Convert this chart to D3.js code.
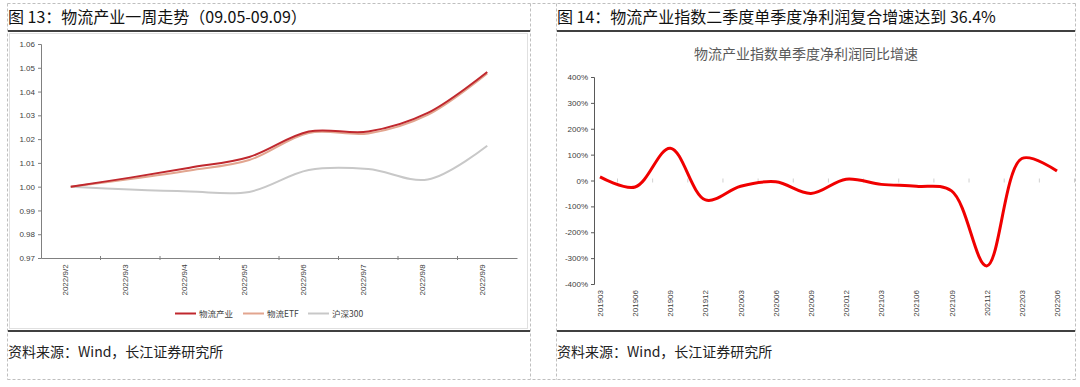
<!DOCTYPE html>
<html><head><meta charset="utf-8">
<script src="https://cdn.jsdelivr.net/npm/d3@7"></script>
<style>
html,body{margin:0;padding:0;background:#fff;}
svg{display:block;}
text{font-family:"Liberation Sans","Noto Sans CJK SC",Arial,sans-serif;}
.cjk{font-family:"Noto Sans CJK SC","Liberation Sans",sans-serif;}
</style></head><body>
<script>
// ---- Chart 1 data ----
const dates1 = ["2022/9/2","2022/9/3","2022/9/4","2022/9/5","2022/9/6","2022/9/7","2022/9/8","2022/9/9"];
const wuliu  = [1.000,1.0038,1.0080,1.0125,1.0232,1.0232,1.0310,1.0482];
const etf    = [1.000,1.0032,1.0068,1.0112,1.0226,1.0224,1.0302,1.0476];
const hs300  = [1.000,0.9988,0.9980,0.9978,1.0070,1.0074,1.0030,1.0172];
const yTicks1 = [0.97,0.98,0.99,1.00,1.01,1.02,1.03,1.04,1.05,1.06];
const seriesNames1 = ["物流产业","物流ETF","沪深300"];

// ---- Chart 2 data ----
const quarters = ["201903","201906","201909","201912","202003","202006","202009","202012","202103","202106","202109","202112","202203","202206"];
const growth   = [14,-25,125,-75,-22,-5,-50,5,-15,-22,-40,-330,85,36.4];
const yTicks2 = [-400,-300,-200,-100,0,100,200,300,400];

const svg = d3.select("body").append("svg").attr("width",1080).attr("height",387);

// panel borders (dashed)
const dash = svg.append("g").attr("fill","none").attr("stroke","#BFBFBF").attr("stroke-dasharray","3,2").attr("stroke-width",1);
dash.append("path").attr("d","M7.5,3.5H1075.5");
dash.append("path").attr("d","M7.5,3.5V379.5");
dash.append("path").attr("d","M530.5,3.5V379.5");
dash.append("path").attr("d","M556.5,3.5V379.5");
dash.append("path").attr("d","M1075.5,3.5V379.5");
dash.append("path").attr("d","M7.5,379.5H1075.5");

// titles
svg.append("text").attr("class","cjk").attr("x",8).attr("y",23).attr("font-size",16).attr("fill","#111")
  .text("图 13：物流产业一周走势（09.05-09.09）");
svg.append("text").attr("class","cjk").attr("x",557).attr("y",23).attr("font-size",16).attr("fill","#111")
  .text("图 14：物流产业指数二季度单季度净利润复合增速达到 36.4%");
// black rules
svg.append("line").attr("x1",8).attr("x2",530).attr("y1",31).attr("y2",31).attr("stroke","#000").attr("stroke-width",1.5);
svg.append("line").attr("x1",557).attr("x2",1075).attr("y1",31).attr("y2",31).attr("stroke","#000").attr("stroke-width",1.5);
svg.append("line").attr("x1",8).attr("x2",530).attr("y1",331).attr("y2",331).attr("stroke","#000").attr("stroke-width",1.5);
svg.append("line").attr("x1",557).attr("x2",1075).attr("y1",331).attr("y2",331).attr("stroke","#000").attr("stroke-width",1.5);
// sources
svg.append("text").attr("class","cjk").attr("x",8).attr("y",357).attr("font-size",14).attr("fill","#222").text("资料来源：Wind，长江证券研究所");
svg.append("text").attr("class","cjk").attr("x",557).attr("y",357).attr("font-size",14).attr("fill","#222").text("资料来源：Wind，长江证券研究所");

// chart 1 area border
svg.append("rect").attr("x",9.5).attr("y",33.5).attr("width",518).attr("height",295).attr("fill","none").attr("stroke","#E0E0E0");

// ---- Chart 1 ----
const x1 = d3.scaleBand().domain(dates1).range([41,517]);
const y1 = d3.scaleLinear().domain([0.97,1.06]).range([258,44]);
const g1 = svg.append("g");
const yAx1 = g1.append("g").attr("transform","translate(41,0)")
  .call(d3.axisLeft(y1).tickValues(yTicks1).tickFormat(d3.format(".2f")).tickSize(3));
yAx1.selectAll("path,line").attr("stroke","#808080");
yAx1.selectAll("text").attr("font-size",8).attr("fill","#404040");
const xAx1 = g1.append("g").attr("transform","translate(0,258)")
  .call(d3.axisBottom(x1).tickSize(0).tickPadding(4));
xAx1.select("path").attr("stroke","#808080");
xAx1.selectAll("text").attr("font-size",8).attr("fill","#404040")
  .attr("transform","rotate(-90)").attr("text-anchor","end").attr("dx","-0.3em").attr("dy","-0.3em").attr("x",-4).attr("y",0);
// between-category ticks
g1.append("g").selectAll("line").data(dates1.slice(1)).join("line")
  .attr("x1",d=>x1(d)).attr("x2",d=>x1(d)).attr("y1",256).attr("y2",260).attr("stroke","#808080");

const line1 = d3.line().x((d,i)=>x1(dates1[i])+x1.bandwidth()/2).y(d=>y1(d)).curve(d3.curveCatmullRom.alpha(0.5));
const s1 = [
  {name:seriesNames1[2], vals:hs300, color:"#C8C8C8", w:2},
  {name:seriesNames1[1], vals:etf, color:"#E2A58F", w:2},
  {name:seriesNames1[0], vals:wuliu, color:"#C0282E", w:2},
];
g1.selectAll("path.s").data(s1).join("path").attr("class","s")
  .attr("d",d=>line1(d.vals)).attr("fill","none").attr("stroke",d=>d.color).attr("stroke-width",d=>d.w);

// legend
const legItems = [
  {name:seriesNames1[0], color:"#C0282E", x:175},
  {name:seriesNames1[1], color:"#E2A58F", x:243},
  {name:seriesNames1[2], color:"#C8C8C8", x:308},
];
const lg = svg.append("g");
legItems.forEach(it=>{
  lg.append("line").attr("x1",it.x).attr("x2",it.x+21).attr("y1",313.5).attr("y2",313.5).attr("stroke",it.color).attr("stroke-width",2);
  lg.append("text").attr("class","cjk").attr("x",it.x+24).attr("y",317).attr("font-size",8.5).attr("fill","#404040").text(it.name);
});

// ---- Chart 2 ----
svg.append("text").attr("class","cjk").attr("x",806).attr("y",59).attr("text-anchor","middle").attr("font-size",14).attr("fill","#595959")
  .text("物流产业指数单季度净利润同比增速");
const x2 = d3.scalePoint().domain(quarters).range([600,1057]);
const y2 = d3.scaleLinear().domain([-400,400]).range([284,77]);
const g2 = svg.append("g");
const yAx2 = g2.append("g").attr("transform","translate(594,0)")
  .call(d3.axisLeft(y2).tickValues(yTicks2).tickFormat(d=>d+"%").tickSize(3));
yAx2.selectAll("path,line").attr("stroke","#595959");
yAx2.selectAll("text").attr("font-size",8).attr("fill","#404040");
// zero-line ticks (faint)
g2.append("g").selectAll("line").data(quarters).join("line")
  .attr("x1",d=>x2(d)+17.5).attr("x2",d=>x2(d)+17.5).attr("y1",y2(0)-2).attr("y2",y2(0)+2).attr("stroke","#D0D0D0");
// x labels at bottom
g2.append("g").selectAll("text").data(quarters).join("text")
  .attr("transform",d=>`translate(${x2(d)+3},290) rotate(-90)`).attr("text-anchor","end")
  .attr("font-size",8).attr("fill","#404040").text(d=>d);
const line2 = d3.line().x((d,i)=>x2(quarters[i])).y(d=>y2(d)).curve(d3.curveCatmullRom.alpha(0.5));
g2.append("path").attr("d",line2(growth)).attr("fill","none").attr("stroke","#F00000").attr("stroke-width",3);
</script>
</body></html>
